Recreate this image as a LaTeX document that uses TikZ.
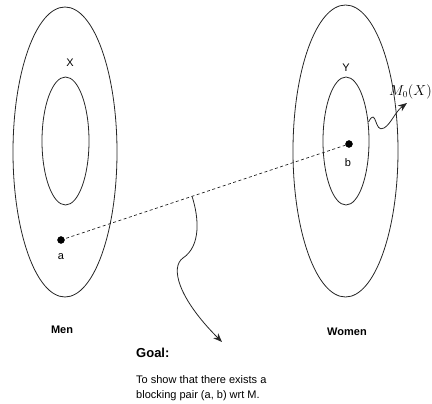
\documentclass[tikz,border=0pt]{standalone}
\usepackage{fontspec}
\setmainfont{Liberation Sans}
\usetikzlibrary{arrows.meta, calc}

\begin{document}
\begin{tikzpicture}[x = 1pt, y = -1pt,
		ring/.style = {line width = 0.8pt, black!85},
		lbl/.style = {font = \fontsize{11}{13}\selectfont, inner sep = 0pt},
		side/.style = {font = \bfseries\fontsize{11}{13}\selectfont, inner sep = 0pt},
		wiggle/.style = {line width = 0.8pt, black!85, -{Stealth[length = 9pt, width = 7pt]}}]
	\useasboundingbox (0, 0) rectangle (432, 404);
	
	\draw [ring] (65, 152) ellipse (52 and 145);
	\draw [ring] (65.5, 141) ellipse (23.5 and 64);
	\draw [ring] (345.5, 151) ellipse (52.5 and 146);
	\draw [ring] (346, 141) ellipse (23 and 64);
	
	\node [lbl] (X) at (70, 63) {X};
	\node [lbl] (Y) at (346, 68) {Y};
	
	\coordinate (a) at (61, 240);
	\coordinate (b) at (349, 144);
	\draw [black!85, line width = 0.7pt, dash pattern = on 3pt off 2.5pt] (a) -- (b);
	\draw [fill] (a) circle (3.5);
	\draw [fill] (b) circle (3.5);
	\node [lbl] (alab) at (61, 257) {a};
	\node [lbl] (blab) at (348, 163) {b};
	
	\coordinate (mid) at ($(a)!0.455!(b)$);
	\coordinate (goaltip) at (222, 342);
	\draw [wiggle] (mid) .. controls (199, 218) and (201, 246) .. (183, 258) .. controls (170, 267) and (178, 298) .. (goaltip);
	
	\coordinate (yedge) at (368.5, 122);
	\coordinate (mtip) at (407, 103);
	\draw [wiggle] (yedge) .. controls (377, 106) and (374, 134) .. (384, 128) .. controls (391, 124) and (395, 112) .. (mtip);
	\node [font = \fontsize{13.5}{16}\selectfont, inner sep = 0pt] (M0) at (410.5, 92) {$M_0(X)$};
	
	\node [side] (men) at (62, 330) {Men};
	\node [side] (women) at (347, 332) {Women};
	
	\node [font = \bfseries\fontsize{13}{15}\selectfont, inner sep = 0pt, anchor = west] (goal) at (136, 353) {Goal:};
	\node [font = \fontsize{11}{15}\selectfont, inner sep = 0pt, anchor = west, align = left] (aim) at (136, 388.5) {To show that there exists a\\blocking pair (a, b) wrt M.};
\end{tikzpicture}
\end{document}
